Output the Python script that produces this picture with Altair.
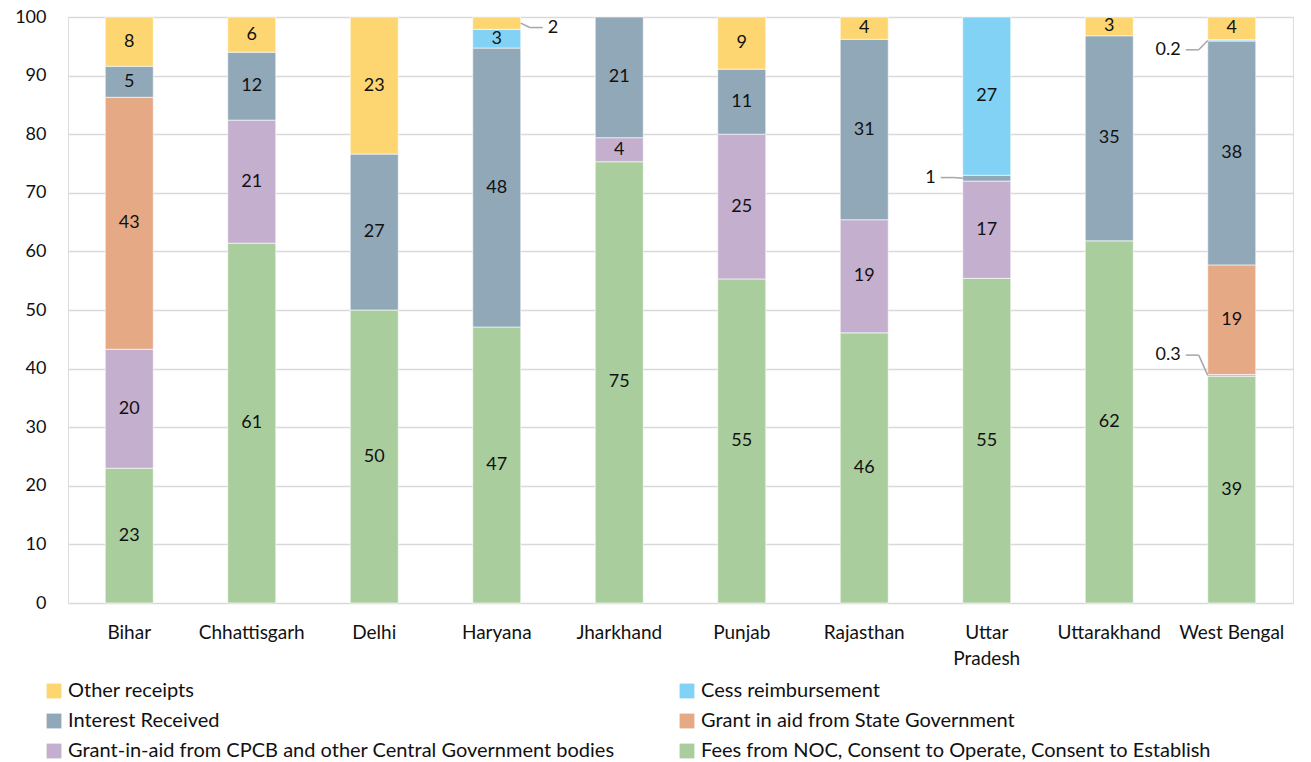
import altair as alt
import pandas as pd

states = ["Bihar", "Chhattisgarh", "Delhi", "Haryana", "Jharkhand", "Punjab",
          "Rajasthan", "Uttar Pradesh", "Uttarakhand", "West Bengal"]

# series in stacking order (bottom -> top)
series = ["Fees from NOC, Consent to Operate, Consent to Establish",
          "Grant-in-aid from CPCB and other Central Government bodies",
          "Grant in aid from State Government",
          "Interest Received",
          "Cess reimbursement",
          "Other receipts"]
colors = ["#AACD9E", "#C4AFCE", "#E6A986", "#91A8B8", "#81D2F5", "#FDD671"]

fees = [23.0, 61.4, 50.0, 47.1, 75.3, 55.3, 46.1, 55.4, 61.8, 38.7]
cpcb = [20.3, 21.0, 0.0, 0.0, 4.1, 24.7, 19.3, 16.6, 0.0, 0.3]
state_grant = [43.0, 0.0, 0.0, 0.0, 0.0, 0.0, 0.0, 0.0, 0.0, 18.7]
interest = [5.3, 11.6, 26.6, 47.6, 20.6, 11.1, 30.8, 1.0, 35.0, 38.2]
cess = [0.0, 0.0, 0.0, 3.2, 0.0, 0.0, 0.0, 27.0, 0.0, 0.2]
other = [8.4, 6.0, 23.4, 2.1, 0.0, 8.9, 3.8, 0.0, 3.2, 3.9]
values = [fees, cpcb, state_grant, interest, cess, other]

# callouts for thin segments: (state, series index, label y, side)
callout_state = ["Haryana", "Uttar Pradesh", "West Bengal", "West Bengal"]
callout_series = [5, 3, 4, 1]
callout_label_y = [98.2, 72.6, 94.4, 42.3]
callout_side = ["right", "left", "left", "left"]

rows = []
for si, s in enumerate(states):
    base = 0.0
    for ki, k in enumerate(series):
        v = values[ki][si]
        if v > 0:
            lab = f"{v:.1f}" if v < 1 else f"{int(v + 0.5):d}"
            rows.append(dict(state=s, series=k, order=ki, value=v, y0=base,
                             y1=base + v, mid=base + v / 2, label=lab,
                             inside=v >= 3))
        base += v
df = pd.DataFrame(rows)

co_rows = []
for st, ki, ly, side in zip(callout_state, callout_series, callout_label_y, callout_side):
    r = df[(df.state == st) & (df.order == ki)].iloc[0]
    co_rows.append(dict(state=st, py=r["mid"], ly=ly, label=r["label"], side=side))
co = pd.DataFrame(co_rows)

FONT = "Lato"
xscale = alt.Scale(domain=states, paddingInner=0.608, paddingOuter=0.304)
yscale = alt.Scale(domain=[0, 100])

x_enc = alt.X("state:N", scale=xscale, sort=states, title=None,
              axis=alt.Axis(labelAngle=0, labelFontSize=19, labelPadding=20,
                            labelColor="#111", labelFont=FONT, ticks=False,
                            domain=False, labelLimit=200,
                            labelExpr="datum.label == 'Uttar Pradesh' ? ['Uttar', 'Pradesh'] : datum.label",
                            labelLineHeight=26))

bars = alt.Chart(df).mark_bar(stroke="white", strokeWidth=0.6).encode(
    x=x_enc,
    y=alt.Y("y0:Q", scale=yscale, title=None,
            axis=alt.Axis(values=list(range(0, 101, 10)), labelFontSize=18,
                          labelPadding=22, labelColor="#111", labelFont=FONT,
                          ticks=False, domain=False, gridColor="#D9D9D9",
                          gridWidth=1.5)),
    y2="y1:Q",
    color=alt.Color("series:N",
                    scale=alt.Scale(domain=list(reversed(series)),
                                    range=list(reversed(colors))),
                    legend=alt.Legend(title=None, orient="none", legendX=-24,
                                      legendY=664, columns=2, columnPadding=62,
                                      direction="horizontal",
                                      rowPadding=10, symbolType="square",
                                      symbolSize=220, symbolStrokeWidth=0,
                                      labelFontSize=20, labelFont=FONT,
                                      labelColor="#111", labelLimit=700,
                                      symbolOpacity=1)),
)

texts = alt.Chart(df[df.inside]).mark_text(fontSize=18, font=FONT, color="#111",
                                           baseline="middle").encode(
    x=alt.X("state:N", scale=xscale, sort=states),
    y=alt.Y("mid:Q", scale=yscale),
    text="label:N",
)

left = co[co.side == "left"]
right = co[co.side == "right"]
lc = "#A6A6A6"

def leader(d, sign):
    diag = alt.Chart(d).mark_rule(color=lc, strokeWidth=1.5,
                                  xOffset=sign * 24, x2Offset=sign * 33).encode(
        x=alt.X("state:N", scale=xscale, sort=states),
        x2="state:N", y=alt.Y("py:Q", scale=yscale), y2="ly:Q")
    horiz = alt.Chart(d).mark_rule(color=lc, strokeWidth=1.5,
                                   xOffset=sign * 33, x2Offset=sign * 46).encode(
        x=alt.X("state:N", scale=xscale, sort=states),
        x2="state:N", y=alt.Y("ly:Q", scale=yscale), y2="ly:Q")
    txt = alt.Chart(d).mark_text(fontSize=18, font=FONT, color="#111",
                                 align="left" if sign > 0 else "right",
                                 dx=sign * 51, baseline="middle").encode(
        x=alt.X("state:N", scale=xscale, sort=states),
        y=alt.Y("ly:Q", scale=yscale), text="label:N")
    return diag + horiz + txt

chart = alt.layer(bars, texts, leader(left, -1), leader(right, 1)).properties(
    width=1225, height=586,
    autosize=alt.AutoSizeParams(type="none"),
    padding={"left": 68, "top": 17, "right": 18, "bottom": 159},
).configure_view(stroke=None).configure(font=FONT)

chart.save("out.html", embed_options={"renderer": "svg", "actions": False})
